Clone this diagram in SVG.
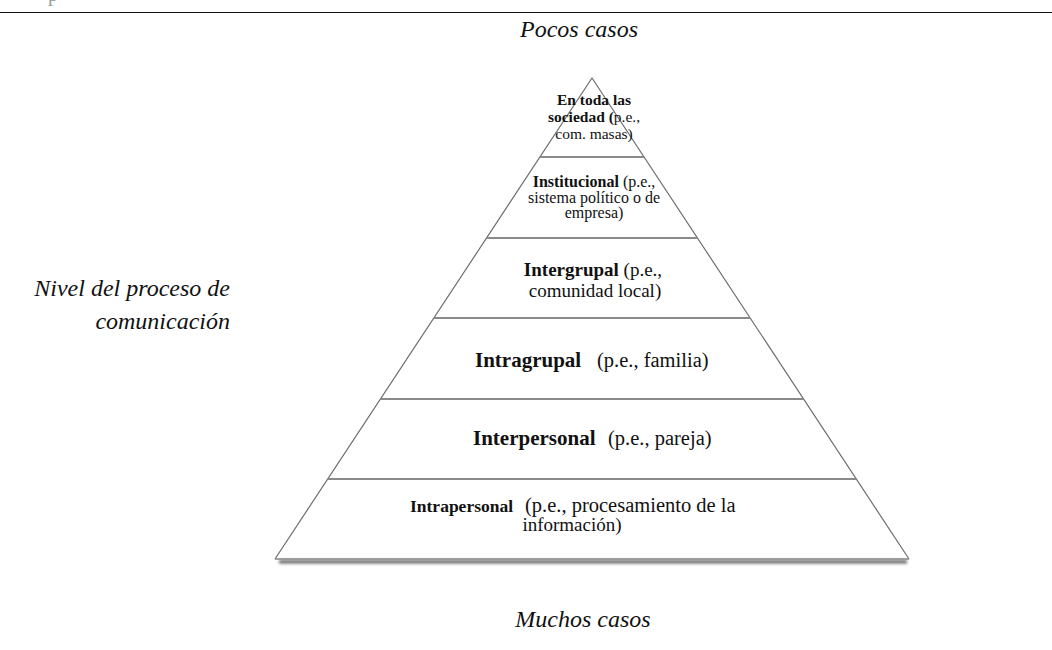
<svg xmlns="http://www.w3.org/2000/svg" width="1052" height="650" viewBox="0 0 1052 650">
<defs>
<style>
.it{font-family:"Liberation Serif","Times New Roman",serif;font-style:italic;font-size:24px;fill:#111}
.t{font-family:"Liberation Serif","Times New Roman",serif;fill:#111}
.b{font-weight:bold}
.div{stroke:#8a8a8a;stroke-width:2;fill:none}
.edge{stroke:#6e6e6e;stroke-width:1.2;fill:none}
</style>
<filter id="sh" filterUnits="userSpaceOnUse" x="250" y="545" width="700" height="35">
<feGaussianBlur stdDeviation="1.6"/>
</filter>
</defs>
<rect width="1052" height="650" fill="#fff"/>
<text x="48" y="1" class="t" font-size="20" style="fill:#9a9a9a">p</text>
<line x1="0" y1="12.5" x2="1052" y2="12.5" stroke="#111" stroke-width="1.2"/>

<text id="top-label" x="579" y="37" class="it" text-anchor="middle" font-size="25">Pocos casos</text>
<text id="bottom-label" x="583" y="627" class="it" text-anchor="middle" font-size="25">Muchos casos</text>
<g id="axis-label" class="it" text-anchor="end">
<text x="230" y="296">Nivel del proceso de</text>
<text x="230" y="329">comunicación</text>
</g>

<g id="pyramid-outline">
<rect x="279" y="560" width="628" height="3.5" fill="#666" filter="url(#sh)"/>
<path class="edge" d="M275,559 L592,78 L909,559"/>
<line x1="275" y1="559" x2="909" y2="559" stroke="#888" stroke-width="1.6"/>
</g>

<g id="connectors">
<line class="div" x1="540" y1="157" x2="644" y2="157"/>
<line class="div" x1="487" y1="238" x2="697" y2="238"/>
<line class="div" x1="434" y1="318" x2="750" y2="318"/>
<line class="div" x1="381" y1="399" x2="803" y2="399"/>
<line class="div" x1="328" y1="479" x2="856" y2="479"/>
</g>

<g id="level-sociedad" class="t" text-anchor="middle" font-size="15.5">
<text x="594" y="105" class="b">En toda las</text>
<text x="594" y="122"><tspan class="b">sociedad (</tspan>p.e.,</text>
<text x="594" y="139">com. masas)</text>
</g>

<g id="level-institucional" class="t" text-anchor="middle" font-size="16">
<text x="594" y="187"><tspan class="b">Institucional</tspan> (p.e.,</text>
<text x="594" y="203">sistema político o de</text>
<text x="594" y="218">empresa)</text>
</g>

<g id="level-intergrupal" class="t" text-anchor="middle" font-size="19">
<text x="593" y="276"><tspan class="b">Intergrupal</tspan> (p.e.,</text>
<text x="595" y="297">comunidad local)</text>
</g>

<g id="level-intragrupal" class="t">
<text x="475" y="367" font-size="21" class="b">Intragrupal</text>
<text x="597" y="367" font-size="20.5">(p.e., familia)</text>
</g>

<g id="level-interpersonal" class="t">
<text x="473" y="445" font-size="21" class="b">Interpersonal</text>
<text x="608" y="445" font-size="20.5">(p.e., pareja)</text>
</g>

<g id="level-intrapersonal" class="t">
<text x="410" y="512" font-size="17.5" class="b">Intrapersonal</text>
<text x="525" y="512" font-size="20.5">(p.e., procesamiento de la</text>
<text x="572" y="531" font-size="19" text-anchor="middle">información)</text>
</g>
</svg>
